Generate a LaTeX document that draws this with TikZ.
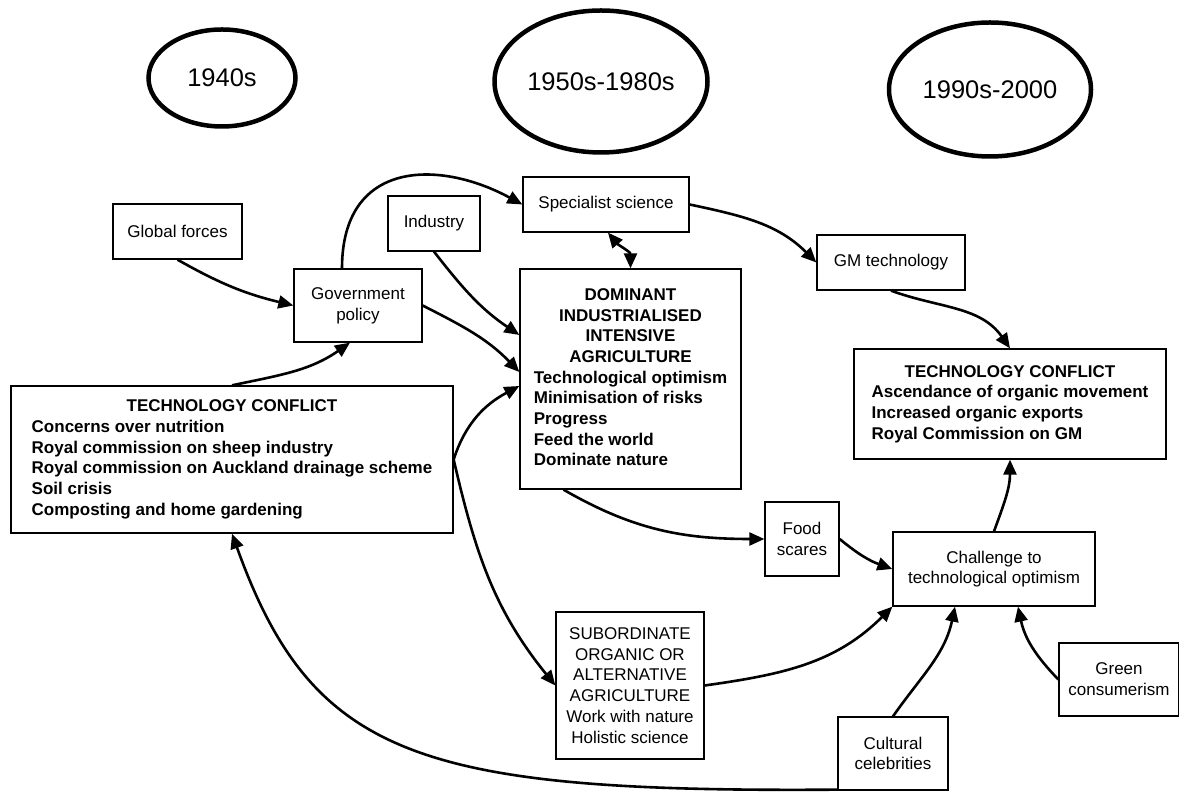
\documentclass[tikz,border=0pt]{standalone}
\usepackage{fontspec}
\setmainfont{Liberation Sans}
\usetikzlibrary{arrows.meta}
\usepgflibrary{shapes.geometric}

\tikzset{
    box/.style={draw, line width=1.3pt, inner sep=0pt, align=center, font=\fontsize{17}{20.7}\selectfont},
    era/.style={draw, ellipse, line width=4.5pt, inner sep=0pt, font=\fontsize{25.5}{30}\selectfont},
    arr/.style={line width=2.6pt, -{Triangle[length=15pt,width=13pt]}},
}

\begin{document}
\begin{tikzpicture}[x=1pt,y=1pt]
        \useasboundingbox (0,0) rectangle (1179,792);

        \node[era, minimum width=147pt, minimum height=97pt] (e1940) at (222,714) {1940s};
        \node[era, minimum width=213pt, minimum height=142pt] (e1950) at (601,710.5) {1950s-1980s};
        \node[era, minimum width=202pt, minimum height=134pt] (e1990) at (990,702.5) {1990s-2000};

        \node[box, minimum width=129pt, minimum height=55pt] (glob) at (177.5,560.5) {Global forces};
        \node[box, minimum width=92pt, minimum height=55pt] (ind) at (434,568.5) {Industry};
        \node[box, minimum width=128pt, minimum height=73pt] (gov) at (358,486.5) {Government\\policy};
        \node[box, minimum width=166pt, minimum height=55pt] (spec) at (606,587.5) {Specialist science};
        \node[box, minimum width=148pt, minimum height=55pt] (gm) at (891,529.5) {GM technology};
        \node[box, minimum width=221pt, minimum height=220pt] (dom) at (630.5,413) {\bfseries
            \begin{tabular}{@{}l@{}}
            \multicolumn{1}{@{}c@{}}{DOMINANT}\\
            \multicolumn{1}{@{}c@{}}{INDUSTRIALISED}\\
            \multicolumn{1}{@{}c@{}}{INTENSIVE}\\
            \multicolumn{1}{@{}c@{}}{AGRICULTURE}\\
            Technological optimism\\
            Minimisation of risks\\
            Progress\\
            Feed the world\\
            Dominate nature
            \end{tabular}};
        \node[box, minimum width=442pt, minimum height=147pt] (tcl) at (232,332.5) {\bfseries
            \begin{tabular}{@{}l@{}}
            \multicolumn{1}{@{}c@{}}{TECHNOLOGY CONFLICT}\\
            Concerns over nutrition\\
            Royal commission on sheep industry\\
            Royal commission on Auckland drainage scheme\\
            Soil crisis\\
            Composting and home gardening
            \end{tabular}};
        \node[box, minimum width=312pt, minimum height=110pt] (tcr) at (1010,388) {\bfseries
            \begin{tabular}{@{}l@{}}
            \multicolumn{1}{@{}c@{}}{TECHNOLOGY CONFLICT}\\
            Ascendance of organic movement\\
            Increased organic exports\\
            Royal Commission on GM
            \end{tabular}};
        \node[box, minimum width=74pt, minimum height=74pt] (food) at (802,253) {Food\\scares};
        \node[box, minimum width=202pt, minimum height=74pt] (chal) at (994,223) {Challenge to\\technological optimism};
        \node[box, minimum width=148pt, minimum height=147pt] (sub) at (630,106.5) {SUBORDINATE\\ORGANIC OR\\ALTERNATIVE\\AGRICULTURE\\Work with nature\\Holistic science};
        \node[box, minimum width=110pt, minimum height=73pt] (cult) at (893,38.5) {Cultural\\celebrities};
        \node[box, minimum width=120pt, minimum height=73pt] (green) at (1119,112.5) {Green\\consumerism};

        \draw[arr] (glob.south) to[bend right=8] (gov.west);
        \draw[arr] ([xshift=-16pt]gov.north) .. controls +(0,109) and +(-83,45) .. (spec.west);
        \draw[arr] (ind.south) to[out=-52, in=146] ([yshift=44pt]dom.west);
        \draw[arr] (gov.east) to[out=-27, in=134] ([yshift=7pt]dom.west);
        \draw[arr] (tcl.east) to[out=72, in=208] ([yshift=-7pt]dom.west);
        \draw[arr] (tcl.east) to[out=-77, in=129] (sub.west);
        \draw[arr] ([yshift=1pt]cult.south west) .. controls +(-418,-3) and +(80.5,-224) .. (tcl.south);
        \draw[arr] (tcl.north) to[out=12, in=-145] ([xshift=-8pt]gov.south);
        \draw[arr, {Triangle[length=15pt,width=13pt]}-{Triangle[length=15pt,width=13pt]}] ([xshift=2pt]spec.south) to[out=-50, in=90] (dom.north);
        \draw[arr] (spec.east) to[out=-12, in=135] (gm.west);
        \draw[arr] (gm.south) to[out=-20, in=125] (tcr.north);
        \draw[arr] ([xshift=-67pt]dom.south) to[out=-30, in=180] (food.west);
        \draw[arr] (food.east) to[bend right=10] (chal.west);
        \draw[arr] (sub.east) to[out=8, in=225] (chal.south west);
        \draw[arr] (cult.north) to[out=55, in=-102] ([xshift=-39pt]chal.south);
        \draw[arr] (green.west) to[out=134, in=-78] ([xshift=24pt]chal.south);
        \draw[arr] (chal.north) to[out=70, in=-90] (tcr.south);
\end{tikzpicture}
\end{document}
